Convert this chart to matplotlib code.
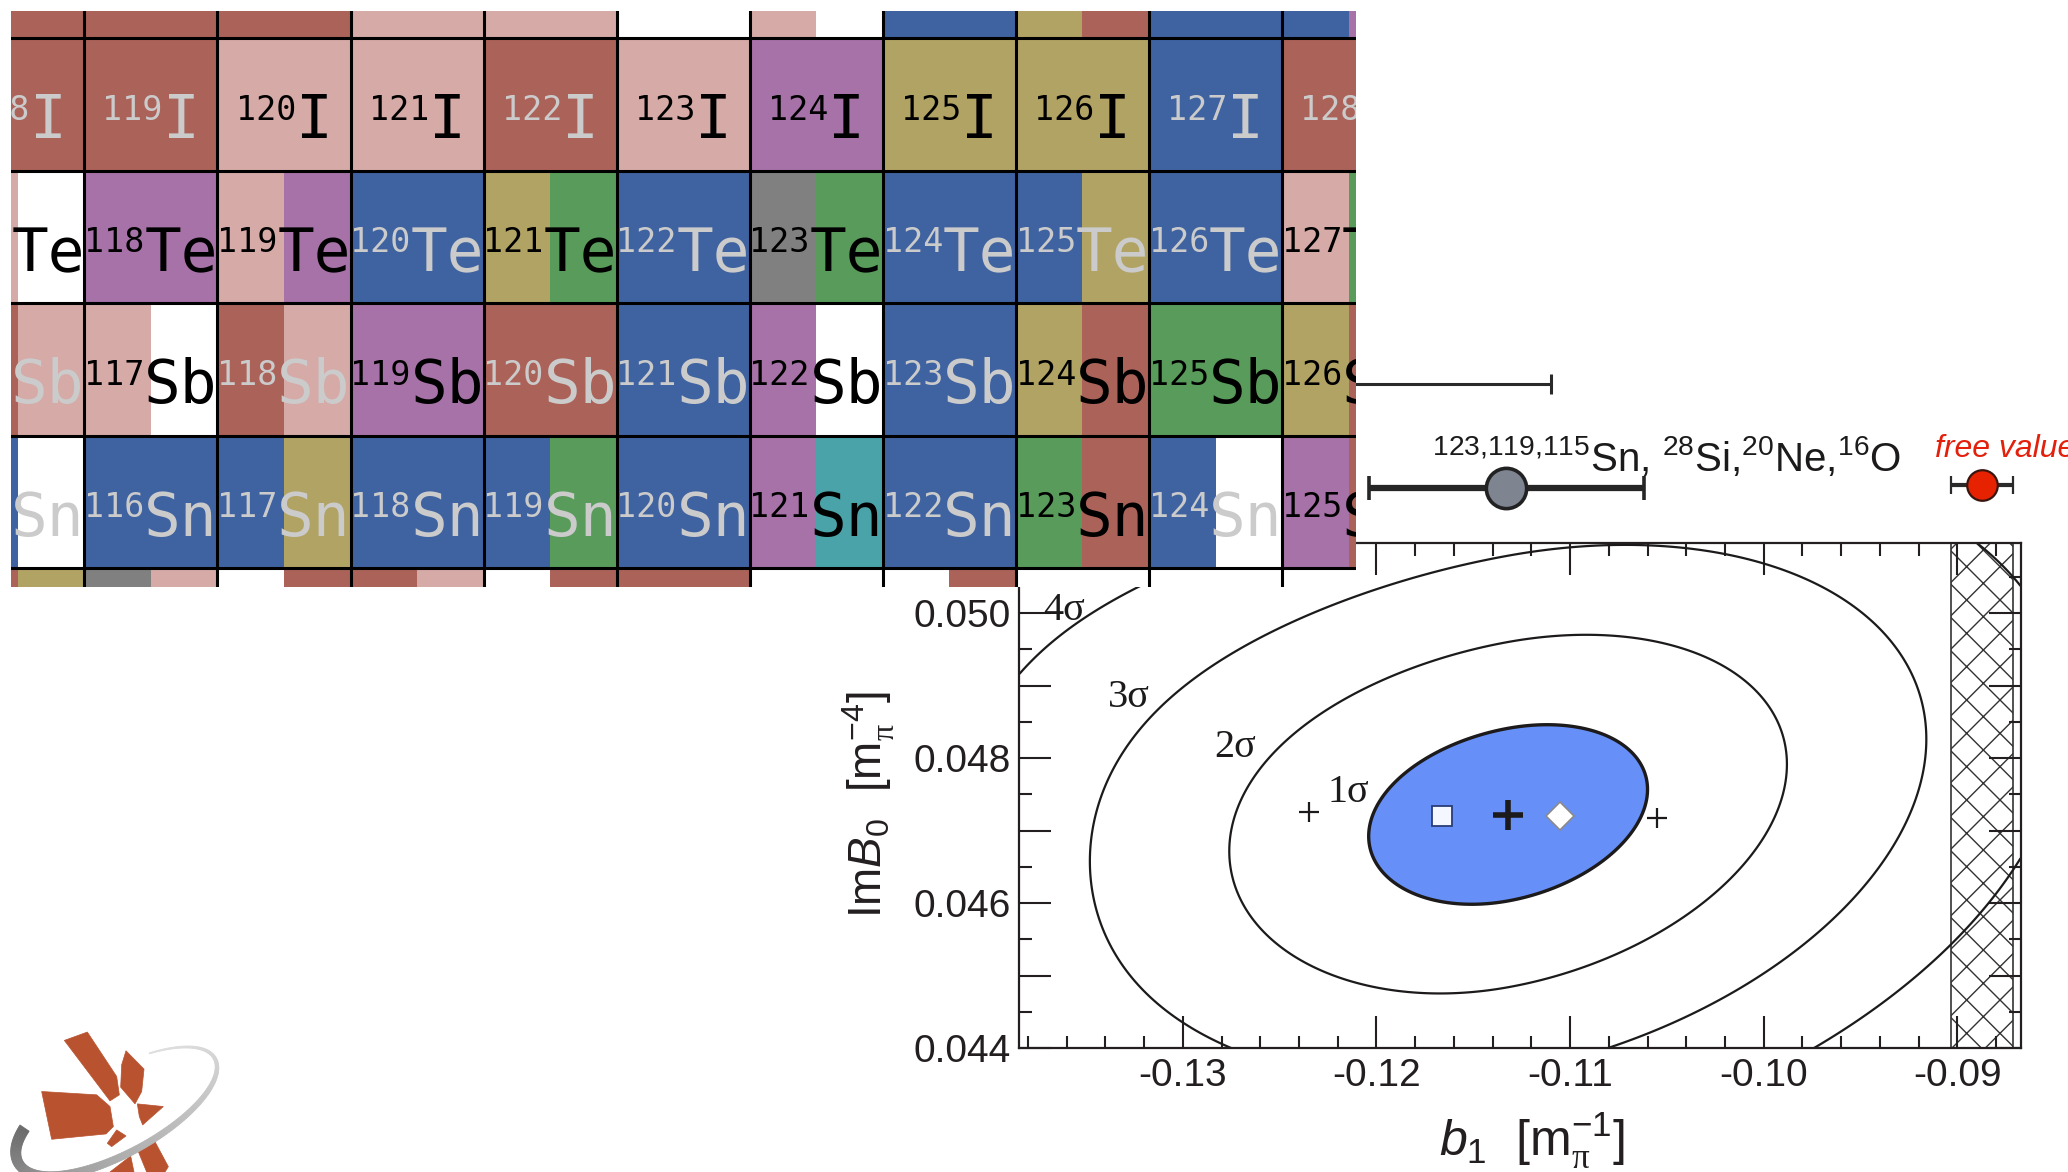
import numpy as np
import matplotlib
matplotlib.use("Agg")
import matplotlib.pyplot as plt
from matplotlib.patches import Polygon, Rectangle
from matplotlib.ticker import MultipleLocator, FuncFormatter, FormatStrFormatter

plt.rcParams['font.family'] = ['Liberation Sans', 'DejaVu Sans']
plt.rcParams['mathtext.fontset'] = 'custom'
plt.rcParams['mathtext.rm'] = 'Liberation Sans'
plt.rcParams['mathtext.it'] = 'Liberation Sans:italic'
plt.rcParams['mathtext.bf'] = 'Liberation Sans:bold'
plt.rcParams['mathtext.sf'] = 'Liberation Serif'
plt.rcParams['axes.unicode_minus'] = False
plt.rcParams['hatch.linewidth'] = 1.0

# --- chart of nuclides (rows = element, columns = same neutron number) ---
elements = ['In', 'Sn', 'Sb', 'Te', 'I', 'Xe']
first_mass = [114, 115, 116, 117, 118, 119]
n_cols = 11
palette = {'R': '#ab6259', 'P': '#d5aaa7', 'U': '#a772a7', 'B': '#3f62a0',
           'O': '#b1a364', 'G': '#599b5a', 'K': '#808080', 'T': '#4aa3a8',
           'W': '#ffffff'}
cells = {
    'Xe': ['R', 'R', 'R', 'P', 'P', 'W', 'P|W', 'B', 'O|R', 'B', 'B|U'],
    'I':  ['R', 'R', 'P', 'P', 'R', 'P', 'U', 'O', 'O', 'B', 'R'],
    'Te': ['P|W', 'U', 'P|U', 'B', 'O|G', 'B', 'K|G', 'B', 'B|O', 'B', 'P|G'],
    'Sb': ['R|P', 'P|W', 'R|P', 'U', 'R', 'B', 'U|W', 'B', 'O|R', 'G', 'O|R'],
    'Sn': ['B|W', 'B', 'B|O', 'B', 'B|G', 'B', 'U|T', 'B', 'G|R', 'B|W', 'U|R'],
    'In': ['R|O', 'K|P', 'W|R', 'R|P', 'W|R', 'R', 'W', 'W|R', 'W', 'W', 'W'],
}
# '1' = black label, '0' = light grey label
dark_text = {
    'I':  '00110111100',
    'Te': '11101010001',
    'Sb': '01010010111',
    'Sn': '00000010101',
}

# --- fit of b1 / Im B0 ---
b1_fit, imb0_fit = -0.1132, 0.04722
b1_sig, imb0_sig, rho = 0.0072, 0.00124, 0.28
skew, widen = 0.04, 0.001          # non-gaussian bend on the low-b1 side
sigma_levels = [1, 2, 3, 4]
sigma_label_pos = [(-0.12252, 0.04740), (-0.12837, 0.04802),
                   (-0.13388, 0.04871), (-0.13721, 0.04991)]
other_b1 = [-0.1235, -0.1055]
other_imb0 = [0.04726, 0.04718]
square_pt = (-0.1166, 0.0472)
diamond_pt = (-0.1105, 0.0472)

# b1 values shown above the plot
b1_upper, b1_upper_err = -0.150, 0.039
b1_sn, b1_sn_err = -0.1133, 0.0071
b1_free, b1_free_err = -0.0887, 0.0016
sn_label = r'$^{123{,}119{,}115}$Sn, $^{28}$Si,$^{20}$Ne,$^{16}$O'

SW, SH = 1568.0, 889.0


def box(x0, y0, x1, y1):
    return [x0 / SW, 1 - y1 / SH, (x1 - x0) / SW, (y1 - y0) / SH]


fig = plt.figure(figsize=(20.68, 11.72), dpi=100)

# ---------------- main contour plot ----------------
ax = fig.add_axes(box(773, 412, 1532, 795), zorder=1)
xlim = (-0.138435, -0.086735)
ylim = (0.044, 0.050964)

gx = np.linspace(xlim[0], xlim[1], 600)
gy = np.linspace(ylim[0] - 0.0005, ylim[1] + 0.0005, 600)
X, Y = np.meshgrid(gx, gy)
xs = (X - b1_fit) / b1_sig
xneg = np.minimum(xs, 0)
ys = (Y - imb0_fit) / imb0_sig / (1 + widen * xneg ** 4) - skew * xneg ** 2
chi2 = (xs ** 2 - 2 * rho * xs * ys + ys ** 2) / (1 - rho ** 2)

levels = [n ** 2 for n in sigma_levels]
ax.contourf(X, Y, chi2, levels=[0, levels[0]], colors=['#6690f8'])
ax.contour(X, Y, chi2, levels=levels[:1], colors='#1c1a1a', linewidths=2.4)
ax.contour(X, Y, chi2, levels=levels[1:], colors='#1c1a1a', linewidths=1.6)

for n, (lx, ly) in zip(sigma_levels, sigma_label_pos):
    ax.text(lx, ly, f'{n}σ', fontsize=29, family='Liberation Serif',
            color='#1c1a1a', ha='left', va='baseline')

ax.axvspan(b1_free - b1_free_err, b1_free + b1_free_err, facecolor='none',
           edgecolor='#333333', hatch='x', linewidth=1.2)

ax.plot(other_b1, other_imb0, '+', ms=14, mew=1.6, color='#1c1a1a')
ax.plot([b1_fit], [imb0_fit], '+', ms=22, mew=4, color='#1c1a1a')
ax.plot([square_pt[0]], [square_pt[1]], 's', ms=14, mfc='#f4f7ff',
        mec='#2a3c78', mew=1.3)
ax.plot([diamond_pt[0]], [diamond_pt[1]], 'D', ms=14, mfc='white',
        mec='#8a8a8a', mew=1.2)

ax.set_xlim(xlim)
ax.set_ylim(ylim)
ax.xaxis.set_major_locator(MultipleLocator(0.01))
ax.xaxis.set_minor_locator(MultipleLocator(0.002))
ax.yaxis.set_major_locator(MultipleLocator(0.001))
ax.yaxis.set_minor_locator(MultipleLocator(0.0005))
ax.xaxis.set_major_formatter(FormatStrFormatter('%.2f'))
ax.yaxis.set_major_formatter(FuncFormatter(
    lambda v, p: f'{v:.3f}' if round(v * 1000) % 2 == 0 else ''))
ax.tick_params(which='both', direction='in', top=True, right=True,
               width=1.5, color='#231f20', labelcolor='#231f20', labelsize=28)
ax.tick_params(which='major', length=23)
ax.tick_params(which='minor', length=9)
ax.tick_params(axis='x', pad=7)
ax.tick_params(axis='y', pad=6.5)
for s in ax.spines.values():
    s.set_linewidth(1.6)
    s.set_color('#231f20')

ax.set_xlabel(r'$b_{\mathit{1}}$  [m$_{\mathsf{\pi}}^{-1}$]', fontsize=36,
              color='#231f20')
ax.xaxis.set_label_coords(0.5125, -0.125)
ax.set_ylabel(r'Im$B_{\mathit{0}}$  [m$_{\mathsf{\pi}}^{-4}$]', fontsize=33,
              color='#231f20')
ax.yaxis.set_label_coords(-0.1225, 0.483)

# ---------------- b1 values above the plot ----------------
top = fig.add_axes(box(773, 260, 1532, 412), zorder=2)
top.set_xlim(xlim)
top.set_ylim(0, 1)
top.axis('off')

bars = [
    top.errorbar([b1_upper], [0.796], xerr=[b1_upper_err], fmt='none',
                 ecolor='#2a2a2a', elinewidth=2.2, capsize=7.5, capthick=2.2),
    top.errorbar([b1_sn], [0.276], xerr=[b1_sn_err], fmt='o', ms=29,
                 mfc='#7e8591', mec='#222222', mew=2.6, ecolor='#262626',
                 elinewidth=4.5, capsize=8.6, capthick=2.6),
    top.errorbar([b1_free], [0.289], xerr=[b1_free_err], fmt='o', ms=22,
                 mfc='#e62200', mec='#3a1510', mew=1.6, ecolor='#2a2a2a',
                 elinewidth=3, capsize=6.8, capthick=2.4),
]
for eb in bars:
    for art in eb.get_children():
        art.set_clip_on(False)

top.text(-0.11711, 0.358, sn_label, fontsize=29, color='#1c1a1a',
         ha='left', va='baseline', clip_on=False)
top.text(-0.09116, 0.431, 'free value', fontsize=23, style='italic',
         color='#e3200c', ha='left', va='baseline', clip_on=False)

# ---------------- nuclide chart ----------------
ch = fig.add_axes(box(8, 8, 1028, 445), zorder=5)
ch.set_xlim(0.445, 10.554)
ch.set_ylim(0.861, 5.209)
ch.axis('off')

fs_num, fs_sym, adv = 24, 44, 0.602
for r, el in enumerate(elements):
    for c, code in enumerate(cells[el]):
        parts = code.split('|')
        wpart = 1.0 / len(parts)
        for k, p in enumerate(parts):
            ch.add_patch(Rectangle((c + k * wpart, r), wpart, 1,
                                   facecolor=palette[p], edgecolor='none'))
        if el not in dark_text:
            continue
        tc = '#000000' if dark_text[el][c] == '1' else '#cbcbcb'
        num = str(first_mass[r] + c)
        num_w = len(num) * adv * fs_num
        sym_w = len(el) * adv * fs_sym
        x0 = -(num_w + sym_w) / 2
        ch.annotate(num, (c + 0.5, r + 0.383), xytext=(x0, 0),
                    textcoords='offset points', ha='left', va='baseline',
                    fontsize=fs_num, family='DejaVu Sans Mono', color=tc,
                    clip_on=True, annotation_clip=False)
        ch.annotate(el, (c + 0.5, r + 0.244), xytext=(x0 + num_w, 0),
                    textcoords='offset points', ha='left', va='baseline',
                    fontsize=fs_sym, family='DejaVu Sans Mono', color=tc,
                    clip_on=True, annotation_clip=False)

for xb in range(1, n_cols):
    ch.axvline(xb, color='black', lw=2.2)
for yb in range(1, len(elements)):
    ch.axhline(yb, color='black', lw=2.2)

# ---------------- logo ----------------
lg = fig.add_axes(box(0, 775, 174.4, 889), zorder=3)
lg.set_xlim(0, 230)
lg.set_ylim(0, 150)
lg.axis('off')

petals = [
    [(193, 182), (262, 157), (350, 290), (358, 345), (330, 363)],
    [(378, 213), (432, 268), (425, 335), (405, 372), (362, 322), (365, 255)],
    [(125, 335), (290, 345), (330, 380), (340, 440), (318, 462), (155, 478)],
    [(412, 372), (490, 380), (428, 435), (418, 410)],
    [(350, 450), (378, 468), (335, 500), (322, 490)],
    [(415, 515), (462, 480), (505, 560), (495, 576), (440, 576)],
    [(330, 576), (392, 528), (402, 576)],
]
for pts in petals:
    xy = [(px / 3.0, 192 - py / 3.0) for px, py in pts]
    lg.add_patch(Polygon(xy, closed=True, facecolor='#b9522e',
                         edgecolor='#b9522e', lw=0.5))

# orbit swoosh around the emblem
cen = np.array([118.0, 62.0])
ra, rb, th = 108.0, 40.0, np.deg2rad(28)
rot = np.array([[np.cos(th), -np.sin(th)], [np.sin(th), np.cos(th)]])
deg = np.linspace(60, -215, 160)
t = np.deg2rad(deg)
inner = cen[:, None] + rot @ np.vstack([ra * np.cos(t), rb * np.sin(t)])
nrm = np.vstack([rb * np.cos(t), ra * np.sin(t)])
nrm = rot @ (nrm / np.linalg.norm(nrm, axis=0))
frac = (60 - deg) / 275.0
outer = inner + nrm * (1 + 10 * frac)
light, dark = np.array([0.87, 0.87, 0.87]), np.array([0.42, 0.42, 0.42])
for i in range(len(deg) - 1):
    col = light + (dark - light) * frac[i] ** 1.6
    quad = [inner[:, i], inner[:, i + 1], outer[:, i + 1], outer[:, i]]
    lg.add_patch(Polygon(quad, closed=True, facecolor=col, edgecolor=col,
                         lw=0.6))

fig.savefig('out.png', dpi=100, facecolor='white')
